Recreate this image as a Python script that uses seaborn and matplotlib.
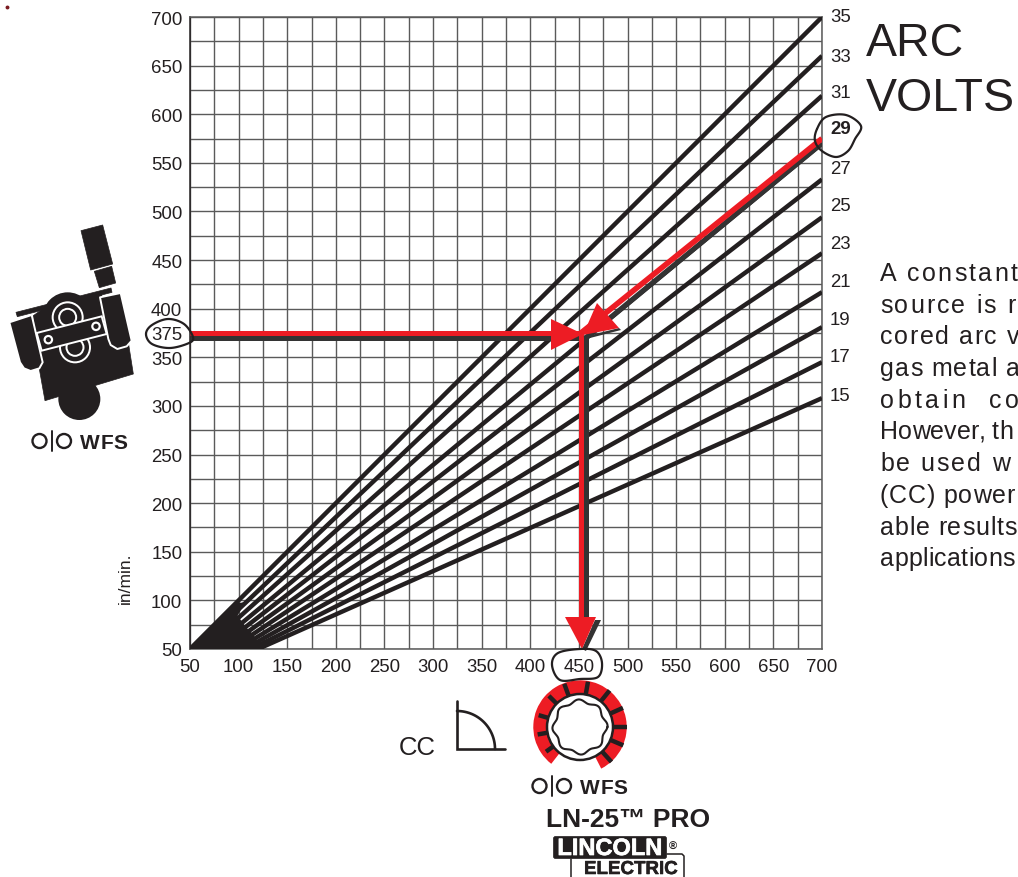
"""
Wire feed speed vs arc volts setup chart (CC mode, LN-25 PRO).
Saves out.png
"""

import numpy as np
import pandas as pd
import seaborn as sns
import matplotlib.pyplot as plt
from matplotlib.patches import Circle, Polygon, Wedge, FancyBboxPatch
from matplotlib.font_manager import FontProperties
import matplotlib.patheffects as pe

# --- Data ---
VOLTS = [35, 33, 31, 29, 27, 25, 23, 21, 19, 17, 15]
START_AMPS = [50, 57, 64, 71, 78, 85, 92, 99, 106, 113, 120]
START_WFS = [50] * 11
END_AMPS = [700] * 11
END_WFS = [700, 660, 619, 570, 533, 494, 457, 417, 381, 345, 308]

# where the lines merge into solid black near the origin
FAN_CORE_AMPS = [50, 122, 115, 108, 99, 106, 97]
FAN_CORE_WFS = [50, 50, 65, 72, 84, 98, 97]

X_TICKS = list(range(50, 701, 50))
Y_TICKS = [50, 100, 150, 200, 250, 300, 350, 375, 400, 450, 500, 550, 600, 650, 700]
GRID_TICKS = list(range(50, 701, 25))

READ_AMPS = 452
READ_WFS = 375
READ_VOLT_WFS = 575
READ_VOLT_AMPS = 700

# pixel rows of the labels to the right of the plot
VOLT_LABEL_ROWS = [18, 57, 93, 130, 169, 207, 245, 283, 321, 358, 397]

PARAGRAPH = [
    ("A constant", 2.3), ("source is r", 2.0), ("cored arc v", 1.6), ("gas metal a", 1.1),
    ("obtain  co", 3.4), ("However, th", 0.1), ("be used w", 2.0), ("(CC) power", 0.8),
    ("able results", 0.8), ("applications", 0.3),
]

INK = '#231f20'
RED = '#ed1c24'
DARK = '#333333'
GRID = '#5a5a5a'
W, H = 1018, 878


def spaced_text(ax, x, y, s, track, size, weight='normal', color=INK):
    # letter spacing by hand, matplotlib has no tracking option
    fp = FontProperties(family='Liberation Sans', size=size, weight=weight)
    renderer = ax.figure.canvas.get_renderer()
    for i, ch in enumerate(s):
        w = renderer.get_text_width_height_descent(s[:i], fp, False)[0] if i else 0
        ax.text(x + w + i * track, y, ch, fontproperties=fp, color=color, va='baseline', ha='left')


def smooth_closed(pts):
    # closed smooth outline through the points (Catmull-Rom)
    pts = np.array(pts, dtype=float)
    n = len(pts)
    out = []
    for i in range(n):
        p0, p1, p2, p3 = pts[i - 1], pts[i], pts[(i + 1) % n], pts[(i + 2) % n]
        for t in np.linspace(0, 1, 12, endpoint=False):
            out.append(0.5 * (2 * p1 + (p2 - p0) * t + (2 * p0 - 5 * p1 + 4 * p2 - p3) * t ** 2
                              + (3 * p1 - p0 - 3 * p2 + p3) * t ** 3))
    out.append(out[0])
    return np.array(out)


def blob(ax, pts, lw=1.6):
    out = smooth_closed(pts)
    ax.plot(out[:, 0], out[:, 1], color=INK, lw=lw, solid_capstyle='round')


def wfs_mark(ax, x, y):
    # the "O|O WFS" glyph, x/y = left end, vertical middle
    ax.add_patch(Circle((x + 7.5, y), 7, fill=False, ec=INK, lw=1.7))
    ax.plot([x + 20, x + 20], [y - 10, y + 10], color=INK, lw=1.4)
    ax.add_patch(Circle((x + 32, y), 7, fill=False, ec=INK, lw=1.7))
    spaced_text(ax, x + 48, y + 7.5, 'WFS', 0.4, 15, weight='bold')


def zoomed(pts):
    return [(px / 3, py / 3 + 210) for px, py in pts]


def draw_feeder(ax):
    for shape in (
        [(243, 65), (308, 48), (338, 165), (272, 183)],
        [(283, 187), (335, 172), (347, 222), (298, 236)],
        [(48, 310), (333, 237), (336, 250), (52, 323)],
        [(135, 295), (300, 250), (385, 400), (400, 495), (135, 575), (118, 480), (100, 320)],
    ):
        ax.add_patch(Polygon(zoomed(shape), closed=True, fc=INK, ec=INK, lw=0.5, joinstyle='round'))
    ax.add_patch(Circle((203 / 3, 325 / 3 + 210), 25, fc=INK, ec='none'))
    ax.add_patch(Circle((238 / 3, 570 / 3 + 210), 21, fc=INK, ec='none'))
    # rollers
    for cx, cy in ((203, 325), (225, 415)):
        c = (cx / 3, cy / 3 + 210)
        ax.add_patch(Circle(c, 16, fc='white', ec='none'))
        ax.add_patch(Circle(c, 14, fc=INK, ec='none'))
        ax.add_patch(Circle(c, 9.5, fc='white', ec='none'))
        ax.add_patch(Circle(c, 7.5, fc=INK, ec='none'))
    # arms, white edged
    for arm in (
        [(28, 340), (95, 318), (128, 460), (118, 478), (92, 486), (72, 478), (60, 460)],
        [(300, 265), (362, 252), (395, 395), (380, 412), (352, 420), (332, 408), (325, 390)],
    ):
        ax.add_patch(Polygon(zoomed(arm), closed=True, fc=INK, ec='white', lw=1.4, joinstyle='round'))
    ax.add_patch(Polygon(zoomed([(110, 372), (305, 322), (320, 375), (125, 425)]), closed=True,
                         fc=INK, ec='white', lw=1.4))
    for cx, cy in ((145, 392), (288, 352)):
        ax.add_patch(Circle((cx / 3, cy / 3 + 210), 4.8, fc='white', ec='none'))
        ax.add_patch(Circle((cx / 3, cy / 3 + 210), 2.6, fc=INK, ec='none'))


def draw_dial(ax, cx, cy):
    # y axis of the overlay runs downward, so the gap sits at data angles 63..128
    ax.add_patch(Wedge((cx, cy), 46.7, 128, 423, width=14, fc=RED, ec='none'))
    for ang, r_out in ((0, 47), (-23, 47), (-48, 47), (24, 47), (51, 47), (80, 46), (110, 46),
                       (135, 44), (164, 43), (190, 43), (216, 42)):
        a = np.radians(ang)
        ax.plot([cx + 33 * np.cos(a), cx + r_out * np.cos(a)],
                [cy - 33 * np.sin(a), cy - r_out * np.sin(a)],
                color=INK, lw=3.2, solid_capstyle='butt')
    ax.add_patch(Circle((cx, cy), 33, fc='white', ec=INK, lw=1.8))
    t = np.linspace(0, 2 * np.pi, 240)
    r = 26 + 1.6 * np.cos(8 * t + 0.4)
    ax.plot(cx + r * np.cos(t), cy + r * np.sin(t), color=INK, lw=1.5)


def main():
    sns.set_theme(style='white')
    plt.rcParams['font.family'] = ['Liberation Sans', 'DejaVu Sans']

    fig = plt.figure(figsize=(W / 100, H / 100), dpi=100)
    fig.canvas.draw()
    ax = fig.add_axes([190 / W, (H - 650) / H, 632 / W, 632 / H])

    rows = []
    for v, x0, y0, x1, y1 in zip(VOLTS, START_AMPS, START_WFS, END_AMPS, END_WFS):
        rows.append({'volts': v, 'amps': x0, 'wfs': y0})
        rows.append({'volts': v, 'amps': x1, 'wfs': y1})
    df = pd.DataFrame(rows)

    sns.lineplot(data=df, x='amps', y='wfs', units='volts', estimator=None, color=INK,
                 linewidth=3.2, ax=ax, zorder=3, solid_capstyle='butt')
    ax.fill(FAN_CORE_AMPS, FAN_CORE_WFS, color=INK, lw=0, zorder=3)

    ax.set_xlim(50, 700)
    ax.set_ylim(50, 700)
    ax.set_xlabel('')
    ax.set_ylabel('')
    ax.set_xticks(X_TICKS)
    ax.set_yticks(Y_TICKS)
    ax.tick_params(which='both', length=0)
    ax.tick_params(axis='x', labelsize=13.4, labelcolor=INK, pad=6.5)
    ax.tick_params(axis='y', labelsize=13.4, labelcolor=INK, pad=5.5)
    # grid drawn by hand so the 25 step lines do not depend on the labelled ticks
    for g in GRID_TICKS:
        ax.axvline(g, color=GRID, lw=1.0, zorder=1)
        ax.axhline(g, color=GRID, lw=1.0, zorder=1)
    for spine in ax.spines.values():
        spine.set_color(GRID)
        spine.set_linewidth(1.1)
    ax.spines['left'].set_color(INK)

    # guide lines for the 375 in/min, 29 V, 450 A reading
    ax.plot([READ_AMPS, READ_VOLT_AMPS], [READ_WFS - 9, 570], color=DARK, lw=3.6, zorder=4, solid_capstyle='butt')
    ax.plot([READ_AMPS, READ_VOLT_AMPS], [READ_WFS, READ_VOLT_WFS], color=RED, lw=4.0, zorder=5, solid_capstyle='butt')
    ax.plot([50, READ_AMPS], [READ_WFS - 5, READ_WFS - 5], color=DARK, lw=3.6, zorder=4, solid_capstyle='butt')
    ax.plot([50, READ_AMPS], [READ_WFS, READ_WFS], color=RED, lw=3.6, zorder=5, solid_capstyle='butt')
    ax.plot([READ_AMPS + 5, READ_AMPS + 5], [70, READ_WFS - 2], color=DARK, lw=3.6, zorder=4, solid_capstyle='butt')
    ax.plot([READ_AMPS, READ_AMPS], [70, READ_WFS], color=RED, lw=3.6, zorder=5, solid_capstyle='butt')

    # overlay in pixel coordinates for annotations and artwork
    ov = fig.add_axes([0, 0, 1, 1], zorder=10)
    ov.set_xlim(0, W)
    ov.set_ylim(H, 0)
    ov.axis('off')
    ov.patch.set_alpha(0)

    # arrow heads
    ov.add_patch(Polygon([(595, 621), (601, 621), (586, 652), (582, 650)], closed=True, fc=DARK, ec='none'))
    ov.add_patch(Polygon([(583, 338), (619, 329), (621, 331), (590, 339)], closed=True, fc=DARK, ec='none'))
    ov.add_patch(Polygon([(551, 320), (551, 351), (583, 335)], closed=True, fc=RED, ec='none'))
    ov.add_patch(Polygon([(597, 304), (619, 329), (583, 336)], closed=True, fc=RED, ec='none'))
    ov.add_patch(Polygon([(565, 618), (596, 618), (582, 650)], closed=True, fc=RED, ec='none'))

    # volt labels
    for v, row in zip(VOLTS, VOLT_LABEL_ROWS):
        ov.text(830, row, str(v), fontsize=13.4, color=INK, va='center', ha='left',
                fontweight='bold' if v == 29 else 'normal')

    # hand drawn rings
    blob(ov, [(146, 335), (152, 326), (168, 320), (184, 325), (193, 338), (189, 344), (170, 349), (152, 345)])
    blob(ov, [(552, 666), (558, 654), (580, 650), (596, 652), (602, 664), (598, 678), (580, 680), (560, 681)])
    blob(ov, [(817, 130), (826, 118), (846, 116), (861, 127), (855, 140), (848, 152), (836, 158), (822, 152), (815, 142)])

    # headings and paragraph
    ov.text(866, 56, 'ARC', fontsize=33.5, color=INK, va='baseline', ha='left')
    ov.text(866, 111, 'VOLTS', fontsize=33.5, color=INK, va='baseline', ha='left')
    for i, (line, track) in enumerate(PARAGRAPH):
        spaced_text(ov, 880, 281 + i * 31.7, line, track, 18)

    ov.text(125, 578, 'in/min.', fontsize=12.5, color=INK, rotation=90, va='center', ha='center')
    ov.plot([7], [8], marker='o', ms=1.8, color='#7a1a20')

    # feeder artwork, marks and logo
    draw_feeder(ov)
    wfs_mark(ov, 32, 442)
    wfs_mark(ov, 532, 787)
    draw_dial(ov, 580, 728)

    ov.text(399, 755, 'CC', fontsize=18.5, color=INK, va='baseline', ha='left')
    ov.plot([457, 457, 505], [702, 750, 750], color=INK, lw=1.9, solid_joinstyle='miter')
    t = np.linspace(0, np.pi / 2, 40)
    ov.plot(457 + 38 * np.sin(t), 750 - 38 * np.cos(t), color=INK, lw=1.9)

    ov.text(546, 827, 'LN-25™ PRO', fontsize=19, color=INK, fontweight='bold', va='baseline', ha='left')

    ov.add_patch(FancyBboxPatch((555, 839), 110, 19, boxstyle='round,pad=1.5,rounding_size=2', fc=INK, ec=INK, lw=0.5))
    ov.text(610, 856, 'LINCOLN', fontsize=17, color='white', fontweight='bold', va='baseline', ha='center',
            path_effects=[pe.withStroke(linewidth=0.5, foreground='white')])
    ov.text(673, 847, '®', fontsize=8, color=INK, fontweight='bold', va='center', ha='center')
    ov.plot([571, 571], [860, 878], color=INK, lw=1.1)
    ov.plot([667, 682, 684, 684], [855, 855, 857, 878], color=INK, lw=1.1)
    ov.text(584, 875, 'ELECTRIC', fontsize=13.5, color=INK, fontweight='bold', va='baseline', ha='left',
            path_effects=[pe.withStroke(linewidth=0.4, foreground=INK)])

    fig.savefig('out.png', dpi=100, facecolor='white')


if __name__ == "__main__":
    main()
